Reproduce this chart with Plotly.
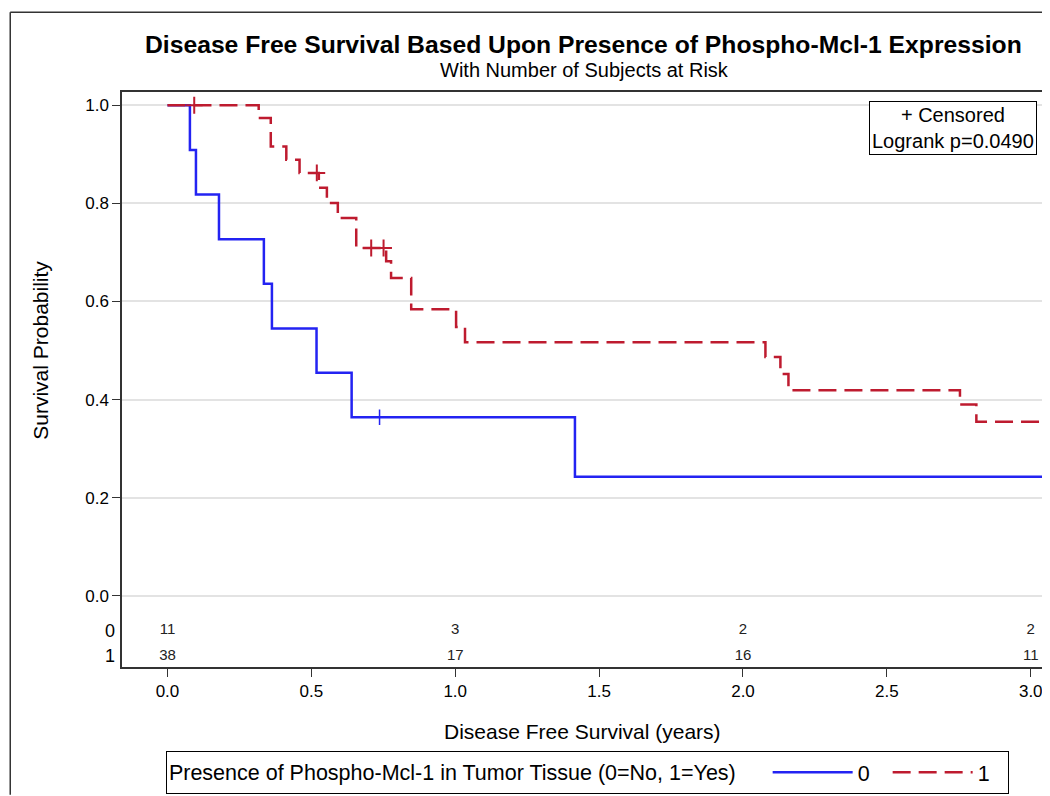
import plotly.graph_objects as go

# Kaplan-Meier steps (time in years, survival after the step)
t_no = [0.0, 0.078, 0.099, 0.179, 0.335, 0.363, 0.518, 0.640, 1.416, 3.06]
s_no = [1.0, 0.909, 0.818, 0.727, 0.636, 0.545, 0.455, 0.364, 0.243, 0.243]
cens_t_no = [0.737]
cens_s_no = [0.364]

t_yes = [0.0, 0.317, 0.359, 0.413, 0.459, 0.526, 0.554, 0.592, 0.656, 0.760, 0.777,
         0.847, 1.003, 1.034, 2.078, 2.130, 2.158, 2.754, 2.811, 3.06]
s_yes = [1.0, 0.974, 0.916, 0.889, 0.862, 0.832, 0.801, 0.770, 0.709, 0.682, 0.648,
         0.584, 0.548, 0.517, 0.487, 0.452, 0.419, 0.390, 0.355, 0.355]
cens_t_yes = [0.093, 0.519, 0.708, 0.751]
cens_s_yes = [1.0, 0.862, 0.709, 0.709]

risk_times = [0, 1, 2, 3]
risk_no = [11, 3, 2, 2]
risk_yes = [38, 17, 16, 11]

BLUE = "#2323F2"
RED = "#BE1B2F"
FONT = "Liberation Sans, Arial, sans-serif"

# the page body adds an 8px margin, so work in screen pixels and shift
OFF = 8
W, H = 1050 - OFF, 796 - OFF
L, R, T, B = 122, 1048, 92, 668   # plot frame on screen


def px_x(x):
    return (x - L) / (R - L)


def px_y(y):
    return (B - y) / (B - T)


fig = go.Figure()

fig.add_trace(go.Scatter(x=t_no, y=s_no, mode="lines", line_shape="hv",
                         line=dict(color=BLUE, width=2.5), name="0"))
fig.add_trace(go.Scatter(x=t_yes, y=s_yes, mode="lines", line_shape="hv",
                         line=dict(color=RED, width=2.5, dash="18px,8px"), name="1"))
fig.add_trace(go.Scatter(x=cens_t_no, y=cens_s_no, mode="markers", showlegend=False,
                         marker=dict(symbol="cross-thin-open", size=11, color=BLUE,
                                     line=dict(color=BLUE, width=1.5))))
fig.add_trace(go.Scatter(x=cens_t_yes, y=cens_s_yes, mode="markers", showlegend=False,
                         marker=dict(symbol="cross-thin-open", size=12, color=RED,
                                     line=dict(color=RED, width=2))))

# number at risk rows, inside the plot area
fig.add_trace(go.Scatter(x=risk_times, y=[-0.071] * 4, mode="text", showlegend=False,
                         text=[str(v) for v in risk_no],
                         textfont=dict(family=FONT, size=15, color="#222")))
fig.add_trace(go.Scatter(x=risk_times, y=[-0.123] * 4, mode="text", showlegend=False,
                         text=[str(v) for v in risk_yes],
                         textfont=dict(family=FONT, size=15, color="#222")))

annos = [
    dict(text="<b>Disease Free Survival Based Upon Presence of Phospho-Mcl-1 Expression</b>",
         x=px_x(584), y=px_y(44), font=dict(size=24.7, color="black")),
    dict(text="With Number of Subjects at Risk", x=px_x(585), y=px_y(70),
         font=dict(size=20, color="black")),
    dict(text="Disease Free Survival (years)", x=px_x(583), y=px_y(733),
         font=dict(size=21, color="black")),
    dict(text="Survival Probability", x=px_x(40), y=0.5, yref="y", textangle=-90,
         font=dict(size=21, color="black")),
    dict(text="0", x=px_x(110), y=-0.071, yref="y", font=dict(size=18, color="black")),
    dict(text="1", x=px_x(110), y=-0.123, yref="y", font=dict(size=18, color="black")),
]
for a in annos:
    a.update(xref="paper", xanchor="center", yanchor="middle", showarrow=False)
    a.setdefault("yref", "paper")
    a["font"]["family"] = FONT
    fig.add_annotation(**a)

fig.add_annotation(text="+ Censored<br>Logrank p=0.0490", xref="paper", yref="paper",
                   x=px_x(1039), y=px_y(101), xanchor="right", yanchor="top",
                   align="center", showarrow=False, bordercolor="black", borderwidth=1,
                   borderpad=2, bgcolor="white",
                   font=dict(family=FONT, size=20, color="black"))

# outer page frame (top and left edges visible)
fig.add_shape(type="line", xref="paper", yref="paper", x0=px_x(10), x1=px_x(1050),
              y0=px_y(12), y1=px_y(12), line=dict(color="#333", width=1.5))
fig.add_shape(type="line", xref="paper", yref="paper", x0=px_x(10), x1=px_x(10),
              y0=px_y(12), y1=px_y(796), line=dict(color="#333", width=1.5))

fig.update_layout(
    width=W, height=H,
    margin=dict(l=L - OFF, r=(W + OFF) - R, t=T - OFF, b=(H + OFF) - B),
    paper_bgcolor="white", plot_bgcolor="white",
    font=dict(family=FONT, size=17, color="black"),
    showlegend=True,
    legend=dict(orientation="h", x=px_x(166), y=px_y(752), xanchor="left", yanchor="top",
                title=dict(text="Presence of Phospho-Mcl-1 in Tumor Tissue (0=No, 1=Yes)    ",
                           font=dict(size=21.5)),
                font=dict(size=21.5), bordercolor="black", borderwidth=1,
                itemwidth=80, entrywidth=25, entrywidthmode="pixels", bgcolor="white"),
)
fig.update_xaxes(range=[-0.158, 3.053], tickvals=[0, 0.5, 1, 1.5, 2, 2.5, 3],
                 ticktext=["0.0", "0.5", "1.0", "1.5", "2.0", "2.5", "3.0"],
                 ticks="outside", ticklen=8, tickcolor="#333", showgrid=False,
                 showline=True, linecolor="#333", linewidth=1.5, mirror=True,
                 zeroline=False, tickfont=dict(size=17))
fig.update_yaxes(range=[-0.145, 1.027], tickvals=[0, 0.2, 0.4, 0.6, 0.8, 1.0],
                 ticktext=["0.0", "0.2", "0.4", "0.6", "0.8", "1.0"],
                 ticks="outside", ticklen=8, tickcolor="#333",
                 showgrid=True, gridcolor="#E3E3E3", gridwidth=1.5,
                 showline=True, linecolor="#333", linewidth=1.5, mirror=True,
                 zeroline=False, tickfont=dict(size=17))

fig.write_html("out.html")
